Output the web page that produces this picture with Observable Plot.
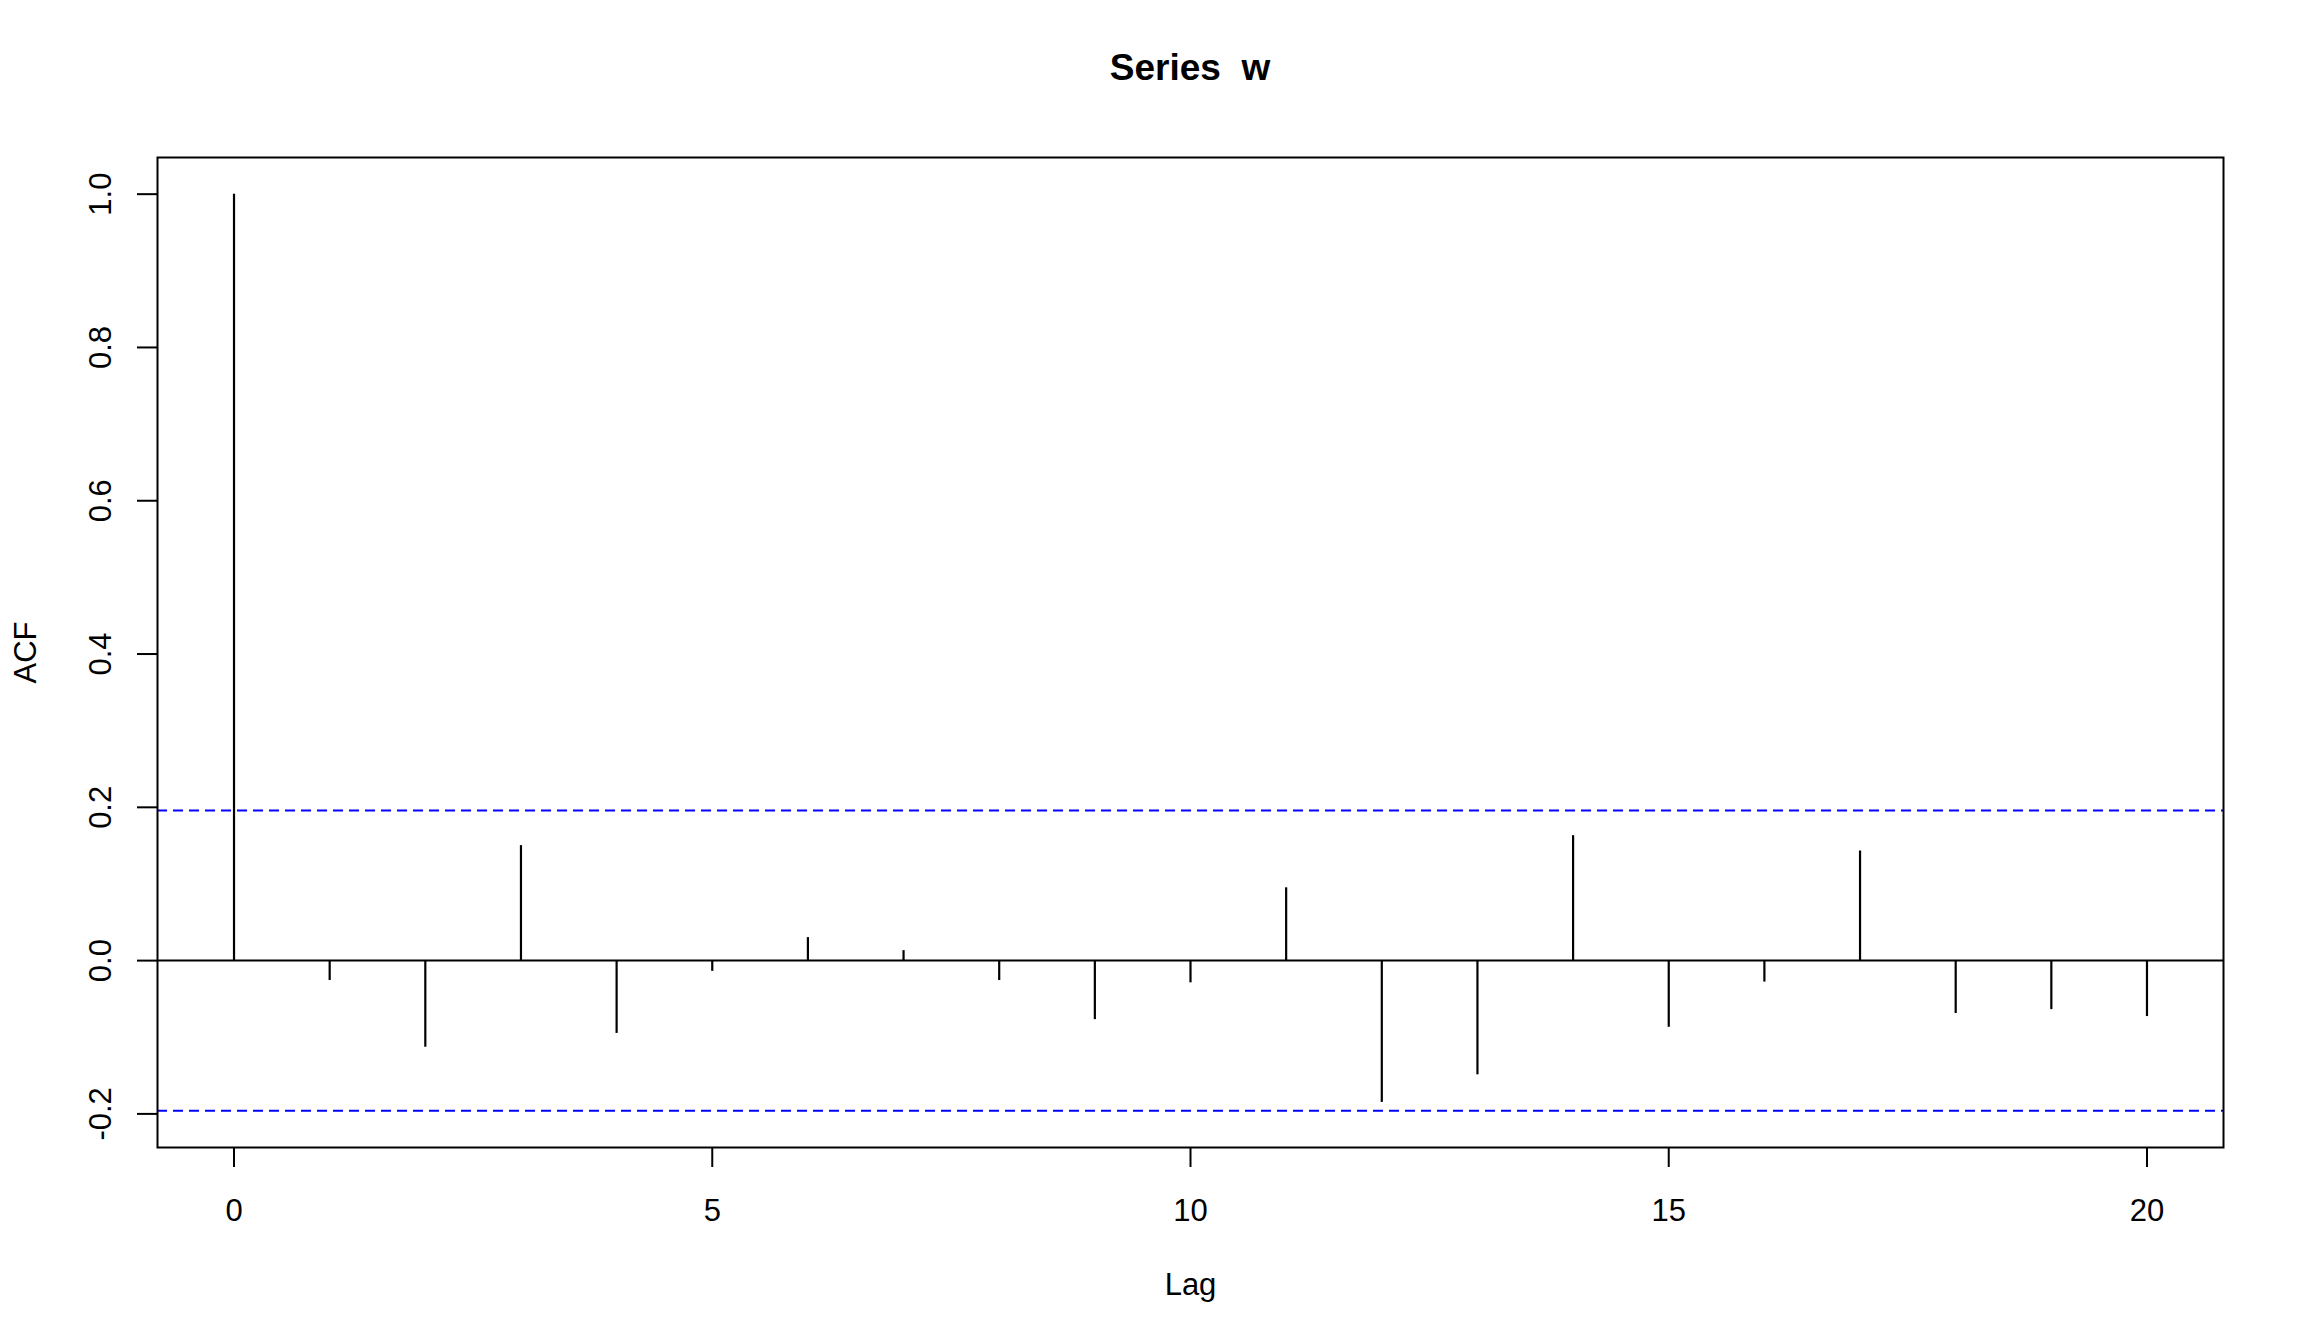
<!DOCTYPE html>
<html>
<head>
<meta charset="utf-8">
<script src="https://cdn.jsdelivr.net/npm/d3@7"></script>
<script src="https://cdn.jsdelivr.net/npm/@observablehq/plot@0.6"></script>
<style>
  html, body { margin: 0; padding: 0; background: #ffffff; }
  #wrap { width: 2304px; height: 1344px; position: relative; overflow: hidden; background: #fff; }
  #title {
    box-sizing: border-box; height: 100px; margin-left: 157px; width: 2066px;
    padding-top: 49px; line-height: 37px; text-align: center; white-space: pre;
    font-family: "Liberation Sans", Arial, sans-serif; font-weight: bold; font-size: 37px; color: #000;
  }
  svg { display: block; }
</style>
</head>
<body>
<div id="wrap">
  <div id="title">Series  w</div>
  <div id="chart"></div>
</div>
<script>
// Data
const lags = [0, 1, 2, 3, 4, 5, 6, 7, 8, 9, 10, 11, 12, 13, 14, 15, 16, 17, 18, 19, 20];
const acfValues = [1.0, -0.026, -0.113, 0.150, -0.095, -0.014, 0.030, 0.013, -0.026, -0.077, -0.029,
                   0.095, -0.185, -0.149, 0.163, -0.087, -0.028, 0.143, -0.069, -0.064, -0.073];
const confLimit = 0.196;
const xTicks = [0, 5, 10, 15, 20];
const yTicks = [-0.2, 0.0, 0.2, 0.4, 0.6, 0.8, 1.0];
const xLabel = "Lag";
const yLabel = "ACF";

const data = lags.map((l, i) => ({lag: l, acf: acfValues[i]}));

// R-style 4% axis extension
const xExt = (d3.max(lags) - d3.min(lags)) * 0.04;
const yMin = Math.min(-confLimit, d3.min(acfValues));
const yMax = Math.max(confLimit, d3.max(acfValues));
const yExt = (yMax - yMin) * 0.04;

const chart = Plot.plot({
  width: 2304,
  height: 1244,
  marginLeft: 157,
  marginRight: 81,
  marginTop: 57,
  marginBottom: 197,
  style: {fontFamily: "Liberation Sans, Arial, sans-serif", fontSize: "31px", color: "#000", background: "#fff"},
  x: {domain: [d3.min(lags) - xExt, d3.max(lags) + xExt]},
  y: {domain: [yMin - yExt, yMax + yExt]},
  marks: [
    Plot.ruleY([confLimit, -confLimit], {stroke: "#0000FF", strokeWidth: 2, strokeDasharray: "10,6"}),
    Plot.ruleY([0], {stroke: "#000", strokeWidth: 2}),
    Plot.ruleX(data, {x: "lag", y1: 0, y2: "acf", stroke: "#000", strokeWidth: 2.2}),
    Plot.frame({stroke: "#000", strokeWidth: 2}),
    Plot.axisX({ticks: xTicks, tickSize: 20, tickPadding: 31, strokeWidth: 2, label: null,
                tickFormat: d => String(d)}),
    Plot.axisY({ticks: yTicks, tickSize: 20, tickPadding: 27, strokeWidth: 2, label: null,
                tickRotate: -90, textAnchor: "middle", lineAnchor: "bottom",
                tickFormat: d => d.toFixed(1)}),
    Plot.text([yLabel], {frameAnchor: "left", dx: -122, rotate: -90, textAnchor: "middle", lineAnchor: "bottom"}),
    Plot.text([xLabel], {frameAnchor: "bottom", dy: 147, textAnchor: "middle", lineAnchor: "bottom"})
  ]
});
document.getElementById("chart").appendChild(chart);
</script>
</body>
</html>
